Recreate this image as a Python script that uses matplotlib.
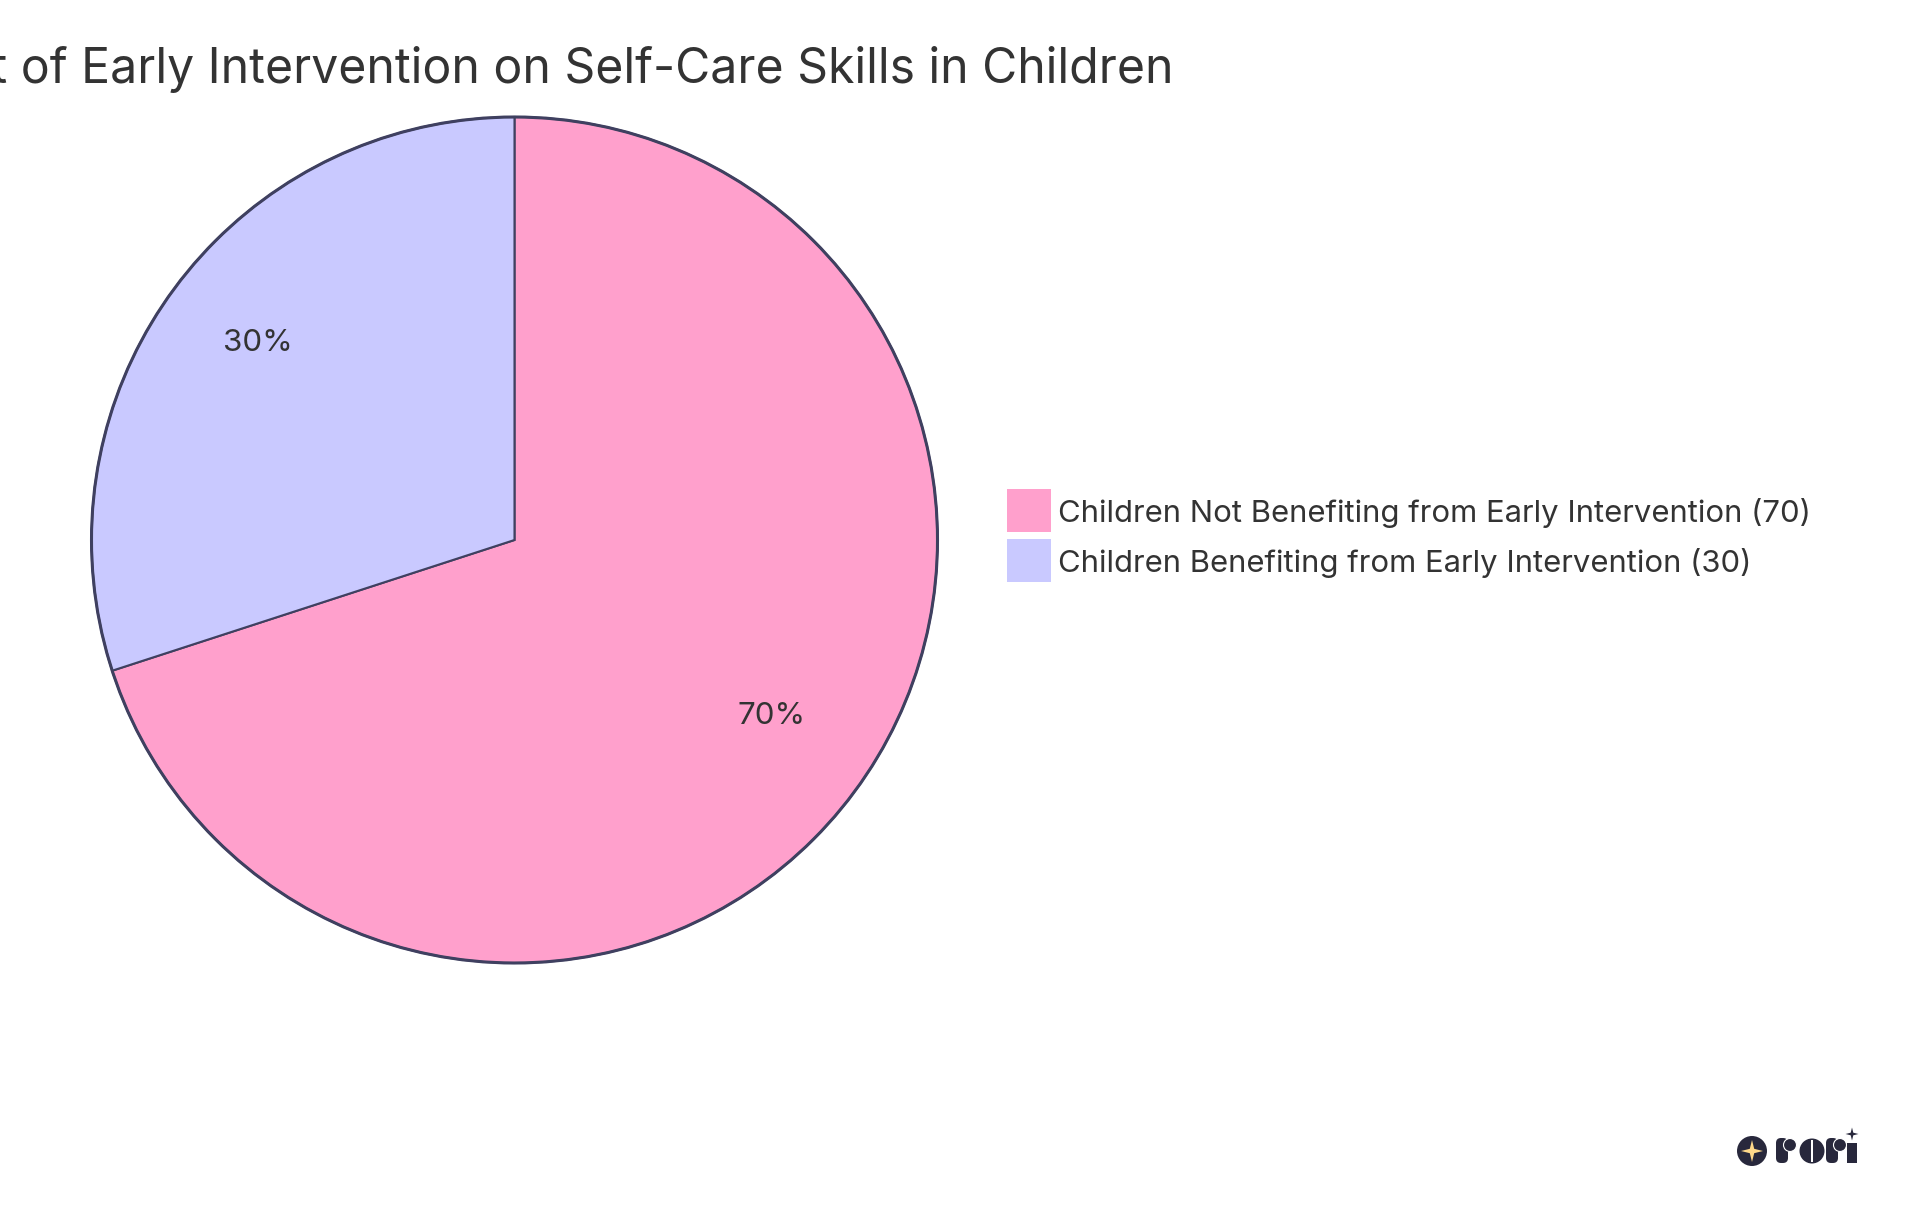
import matplotlib
matplotlib.use("Agg")
import matplotlib.pyplot as plt
from matplotlib.patches import Circle, Rectangle, Polygon, FancyBboxPatch

# --- Data ---
title = "Impact of Early Intervention on Self-Care Skills in Children"
categories = ["Children Not Benefiting from Early Intervention", "Children Benefiting from Early Intervention"]
values = [70, 30]

# --- Style ---
colors = ["#FFA0CC", "#C9C9FF"]
edge_color = "#3F4060"
text_color = "#333333"
logo_color = "#28283C"
W, H = 1920, 1215
plt.rcParams["font.family"] = ["Inter", "DejaVu Sans"]

fig = plt.figure(figsize=(W / 100, H / 100), dpi=100, facecolor="white")

# pie axes: centre (514.5, 540), radius 423 in pixels
cx, cy, r = 514.5, 540, 423
ax = fig.add_axes([(cx - r) / W, 1 - (cy + r) / H, 2 * r / W, 2 * r / H])
wedges, _, autotexts = ax.pie(values, colors=colors, startangle=90, counterclock=False,
                              autopct="%1.0f%%", pctdistance=0.75, radius=1,
                              wedgeprops={"edgecolor": edge_color, "linewidth": 1.5})
for t in autotexts:
    t.set_fontsize(22.5)
    t.set_color(text_color)
    x, y = t.get_position()
    t.set_position((x, y + 0.024))
ax.add_patch(Circle((0, 0), 1, fill=False, edgecolor=edge_color, linewidth=2.2, clip_on=False))
ax.set_xlim(-1, 1)
ax.set_ylim(-1, 1)

# overlay in pixel coordinates for title, legend and logo
ov = fig.add_axes([0, 0, 1, 1], facecolor="none")
ov.set_xlim(0, W)
ov.set_ylim(H, 0)
ov.axis("off")

ov.text(1174, 83, title, ha="right", va="baseline", fontsize=34.65, color=text_color)

for i, (cat, val, col) in enumerate(zip(categories, values, colors)):
    y0 = 489 + i * 50
    ov.add_patch(Rectangle((1007, y0), 44, 43, facecolor=col, edgecolor="none"))
    ov.text(1058, y0 + 33, f"{cat} ({val})", ha="left", va="baseline", fontsize=22.35,
            color=text_color)

# logo
def star(x, y, s, col):
    k = s * 0.2
    pts = [(x, y - s), (x + k, y - k), (x + s, y), (x + k, y + k),
           (x, y + s), (x - k, y + k), (x - s, y), (x - k, y - k)]
    ov.add_patch(Polygon(pts, closed=True, facecolor=col, edgecolor="none"))

def letter_r(x):
    ov.add_patch(FancyBboxPatch((x, 1138), 12, 25, boxstyle="round,pad=0,rounding_size=5",
                                facecolor=logo_color, edgecolor="none"))
    ov.add_patch(Circle((x + 14, 1145), 6.5, facecolor=logo_color, edgecolor="white", linewidth=0.8))

ov.add_patch(Circle((1752, 1151), 15, facecolor=logo_color, edgecolor="none"))
star(1752, 1151, 11, "#FFD98A")
letter_r(1776)
ov.add_patch(Circle((1812, 1151), 12.5, facecolor=logo_color, edgecolor="none"))
ov.add_patch(Rectangle((1811, 1140), 2, 22, facecolor="white", edgecolor="none"))
letter_r(1826)
ov.add_patch(Rectangle((1847, 1143), 10, 20, facecolor=logo_color, edgecolor="none"))
star(1852, 1134, 6.5, logo_color)

fig.savefig("out.png", dpi=100)
